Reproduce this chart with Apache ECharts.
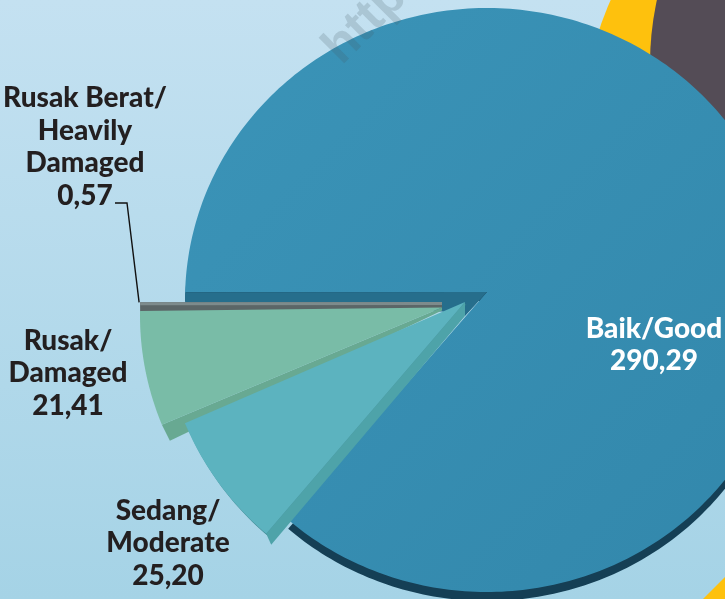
<!DOCTYPE html>
<html>
<head>
<meta charset="utf-8">
<style>
  html, body { margin: 0; padding: 0; }
  #chart { width: 725px; height: 599px; }
</style>
<script src="https://cdn.jsdelivr.net/npm/echarts@6/dist/echarts.min.js"></script>
</head>
<body>
<div id="chart"></div>
<script>
"use strict";

var sliceNames = ['Baik/Good', 'Sedang/\nModerate', 'Rusak/\nDamaged', 'Rusak Berat/\nHeavily\nDamaged'];
var sliceValues = [290.29, 25.20, 21.41, 0.57];

// look of the drawing, one entry per slice
var FONT = '900 28px Lato, "Open Sans", sans-serif';
var ELLIPSE = { cx: 487, cy: 300, rx: 302, ry: 292 };
var START_ANGLE = 181.5;   // screen degrees, clockwise
var sliceLook = [
  { dx: 0, dy: 0, tip: -8, z: 1, face: ['#3b94b8', '#3287ab'], side: '#153f55', drop: [0, 9],
    label: [654, 345], color: '#ffffff' },
  { dx: -22, dy: 14, tip: -12, z: 4, face: ['#5cb3bf', '#5cb2bc'], side: '#4ea3a9', drop: [5, 11],
    label: [168, 543], color: '#231f20' },
  { dx: -45, dy: 15.5, tip: -8, z: 3, face: ['#79bca7', '#7abba4'], side: '#68a992', drop: [8, 16],
    label: [68, 373], color: '#231f20' },
  { dx: -45, dy: 10, tip: -8, z: 2, face: ['#7d8b8c', '#7d8b8c'], side: '#5b6667', drop: [0, 10],
    label: [85, 147], color: '#231f20' }
];

function formatValue(v) {
  return v.toFixed(2).replace('.', ',');
}

function arcPoint(look, deg) {
  var rad = deg * Math.PI / 180;
  return [
    ELLIPSE.cx + look.dx + ELLIPSE.rx * Math.cos(rad),
    ELLIPSE.cy + look.dy + ELLIPSE.ry * Math.sin(rad)
  ];
}

function tipPoint(look) {
  return [ELLIPSE.cx + look.dx, ELLIPSE.cy + look.dy + look.tip];
}

function shift(p, d) {
  return [p[0] + d[0], p[1] + d[1]];
}

function shiftAll(pts, d) {
  return pts.map(function (p) { return shift(p, d); });
}

function facePoints(look, from, to) {
  var pts = [tipPoint(look)];
  var n = Math.max(2, Math.ceil(to - from));
  for (var i = 0; i <= n; i++) {
    pts.push(arcPoint(look, from + (to - from) * i / n));
  }
  return pts;
}

var total = sliceValues.reduce(function (a, b) { return a + b; }, 0);

function sliceAngles(idx) {
  var before = 0;
  for (var i = 0; i < idx; i++) before += sliceValues[i];
  return [
    START_ANGLE + before / total * 360,
    START_ANGLE + (before + sliceValues[idx]) / total * 360
  ];
}

function poly(points, fill, z2) {
  return { type: 'polygon', z2: z2, shape: { points: points }, style: { fill: fill }, silent: true };
}

function renderSlice(params, api) {
  var idx = api.value(0);
  var look = sliceLook[idx];
  var angles = sliceAngles(idx);
  var from = angles[0], to = angles[1];
  var base = look.z * 10;
  var tip = tipPoint(look);
  var pts = facePoints(look, from, to);
  var children = [];

  if (idx === 0) {
    // rim under the big slice, and the cut wall seen through the gap
    children.push(poly(shiftAll(pts, look.drop), look.side, base));
    var rimStart = arcPoint(look, from);
    children.push(poly(pts, {
      type: 'linear', x: 0, y: 0, x2: 1, y2: 1,
      colorStops: [{ offset: 0, color: look.face[0] }, { offset: 1, color: look.face[1] }]
    }, base + 1));
    children.push(poly([
      rimStart, tip, shift(tipPoint(sliceLook[1]), [0, 14]),
      shift(tipPoint(sliceLook[2]), [0, 4]), shift(rimStart, [0, 11])
    ], '#266e8c', base + 2));
  } else if (idx === 3) {
    // the sliver is thinner than its own side, so draw both as strips from tip to rim
    var rim = arcPoint(look, to);
    children.push(poly([tip, rim, shift(rim, look.drop), shift(tip, [0, 6])], look.side, base));
    children.push(poly([tip, rim, shift(rim, [0, 3]), shift(tip, [0, 3])], look.face[0], base + 1));
    // leader line from the label to the rim
    children.push({
      type: 'polyline', z2: 90, silent: true,
      shape: { points: [[115, 203], [127, 203], shift(rim, [-1, 0])] },
      style: { stroke: '#111111', lineWidth: 1.4, fill: 'none' }
    });
  } else {
    var lowEdge = arcPoint(look, from);
    if (idx === 1) {
      children.push(poly(shiftAll(pts, [1.5, 2]), '#3f8791', base));
      children.push(poly([tip, lowEdge, shift(lowEdge, look.drop), shift(tip, [0, 14])], look.side, base + 1));
    } else {
      children.push(poly([tip, lowEdge, shift(lowEdge, look.drop), shift(tip, [0, 3])], look.side, base + 1));
    }
    children.push(poly(pts, look.face[0], base + 2));
  }

  children.push({
    type: 'text', z2: 100, silent: true,
    style: {
      x: look.label[0], y: look.label[1],
      text: sliceNames[idx] + '\n' + formatValue(api.value(1)),
      font: FONT, fill: look.color, align: 'center', verticalAlign: 'middle', lineHeight: 32.5
    }
  });
  return { type: 'group', children: children };
}

var chart = echarts.init(document.getElementById('chart'), null, { renderer: 'canvas' });

chart.setOption({
  animation: false,
  backgroundColor: {
    type: 'linear', x: 0, y: 0, x2: 0, y2: 1,
    colorStops: [{ offset: 0, color: '#c4e1f1' }, { offset: 1, color: '#a5d3e6' }]
  },
  graphic: [
    // neighbouring pies of the original page, cropped away here
    { type: 'circle', z: 0, shape: { cx: 931, cy: 141, r: 350 }, style: { fill: '#fec10d' } },
    { type: 'circle', z: 0, shape: { cx: 950, cy: 64, r: 300 }, style: { fill: '#544c56' } },
    { type: 'polygon', z: 0, shape: { points: [[703, 599], [725, 577], [725, 599]] }, style: { fill: '#fec10d' } },
    { type: 'text', z: 50, rotation: Math.PI / 4, x: 332, y: 56,
      style: { text: 'http', font: 'bold 50px "Liberation Sans", Arial, sans-serif',
        fill: 'rgba(70,90,100,0.2)', align: 'left', verticalAlign: 'middle' } }
  ],
  series: [{
    type: 'custom',
    coordinateSystem: 'none',
    z: 2,
    clip: false,
    renderItem: renderSlice,
    data: sliceValues.map(function (v, i) { return [i, v]; })
  }]
});
</script>
</body>
</html>
